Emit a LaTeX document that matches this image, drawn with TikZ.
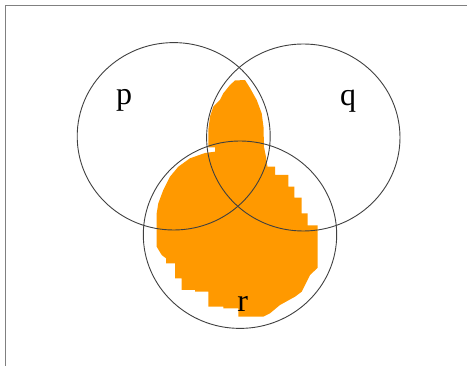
\documentclass[tikz,border=0pt]{standalone}
\usepackage{fontspec}
\setmainfont{Liberation Serif}
\usetikzlibrary{shapes.geometric}
\definecolor{fillorange}{HTML}{FF9900}
\definecolor{ringcol}{HTML}{404040}
\definecolor{framecol}{HTML}{808080}
\begin{document}
\begin{tikzpicture}[x=1pt,y=-1pt,
  ring/.style={draw=ringcol,line width=0.9pt,ellipse,inner sep=0pt},
  lbl/.style={font=\fontsize{32}{36}\selectfont,anchor=base,inner sep=0pt}]
\useasboundingbox (0,0) rectangle (467,366);
\fill[fillorange] (235,80.5) -- (245,80) -- (250,88) -- (256.7,100) -- (261.7,113.3) -- (263.5,127) -- (264,147) -- (266,157) -- (267.5,166.7)
 -- (275,166.7) -- (275,175) -- (288.3,175) -- (288.3,186.7) -- (294.3,186.7) -- (294.3,197.7) -- (301.7,197.7) -- (301.7,213.3) -- (307.7,213.3) -- (307.7,225.5) -- (317.5,225.5)
 -- (317.5,268) -- (310,275) -- (301.7,291.7) -- (295,296.7) -- (280,305) -- (270,313.3) -- (263.3,316.7) -- (238.3,316.7) -- (238.3,308.3) -- (223.3,308.3) -- (223.3,306.7) -- (208.3,306.7)
 -- (208.3,291.7) -- (195,291.7) -- (195,290) -- (181.7,290) -- (181.7,278.3) -- (175,278.3) -- (175,263.3) -- (166,263.3) -- (166,258.3) -- (161.7,255) -- (156.7,246.7)
 -- (156.7,213.3) -- (158.3,203.3) -- (163.3,190) -- (170,176.7) -- (178.3,166.7) -- (190,158.3) -- (205,153) -- (215,151.7) -- (215,147.5) -- (208.5,147.5)
 -- (208.3,130) -- (210,116.7) -- (213.3,106.7) -- (220,100) -- (223.3,93.3) -- (230,85) -- cycle;
\draw[framecol,line width=1.8pt] (5.5,366) -- (5.5,5.5) -- (467,5.5);
\node[ring,minimum width=193pt,minimum height=187.4pt] (P) at (173.7,136.3) {};
\node[ring,minimum width=193.4pt,minimum height=187pt] (Q) at (303.3,137.5) {};
\node[ring,minimum width=193.4pt,minimum height=187.4pt] (R) at (240,234.7) {};
\node[lbl] (lp) at (124.2,104.5) {p};
\node[lbl] (lq) at (348,105.5) {q};
\node[lbl] (lr) at (242.7,311.5) {r};
\end{tikzpicture}
\end{document}
